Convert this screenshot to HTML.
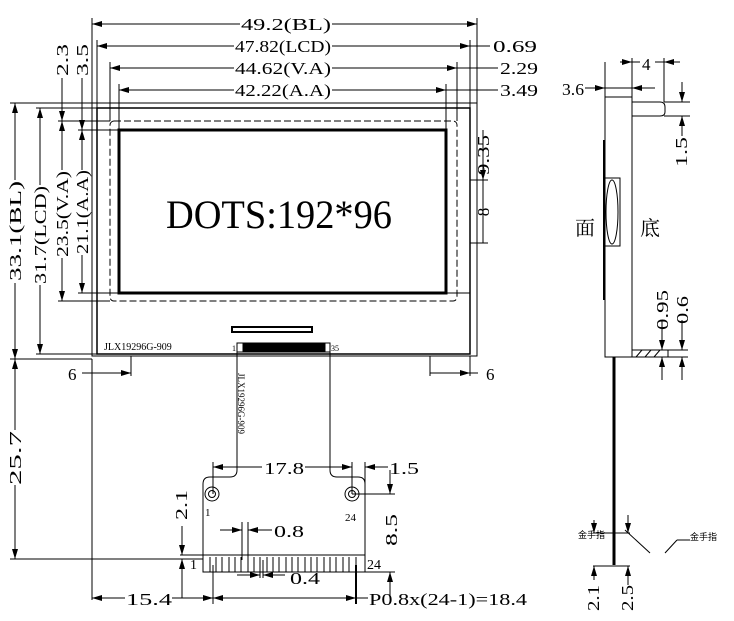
<!DOCTYPE html>
<html><head><meta charset="utf-8"><style>
html,body{margin:0;padding:0;background:#fff;}
svg{display:block;}
text{font-family:"Liberation Serif","Noto Serif CJK SC",serif;fill:#000;}
</style></head><body>
<svg width="734" height="621" viewBox="0 0 734 621" xmlns="http://www.w3.org/2000/svg">
<defs>
<marker id="a" viewBox="0 0 10 6" refX="10" refY="3" markerWidth="10" markerHeight="6" orient="auto-start-reverse" markerUnits="userSpaceOnUse"><path d="M0,0 L10,3 L0,6z" fill="#000"/></marker>
</defs>
<g stroke="#000" fill="none" stroke-width="1">
<rect x="92" y="103" width="385" height="253"/>
<rect x="97" y="108" width="373" height="246" stroke-width="1.5"/>
<line x1="97" y1="293" x2="470" y2="293"/>
<rect x="110" y="121" width="347" height="180" rx="4" stroke-dasharray="7,3"/>
<rect x="119" y="130" width="327" height="163" stroke-width="3"/>
<rect x="232" y="327" width="80" height="5" stroke-width="2"/>
<rect x="243" y="343" width="82" height="9" fill="#000"/>
<rect x="237" y="343" width="93" height="9"/>
<path d="M237,352 V470 Q237,477 230,477 H210 Q203,477 203,484 V555 M330,352 V470 Q330,477 337,477 H358 Q365,477 365,484 V555"/>
<rect x="203" y="555" width="162" height="17"/>
<circle cx="212" cy="494" r="7"/><circle cx="212" cy="494" r="3.5"/>
<circle cx="352" cy="494" r="7"/><circle cx="352" cy="494" r="3.5"/>
<path d="M210,557 V572 M216,557 V572 M222,557 V572 M229,557 V572 M235,557 V572 M241,557 V572 M248,557 V572 M254,557 V572 M260,557 V572 M267,557 V572 M273,557 V572 M279,557 V572 M286,557 V572 M292,557 V572 M298,557 V572 M305,557 V572 M311,557 V572 M317,557 V572 M324,557 V572 M330,557 V572 M336,557 V572 M343,557 V572 M349,557 V572 M356,557 V572"/>
<line x1="92" y1="18" x2="92" y2="103"/><line x1="477" y1="18" x2="477" y2="103"/>
<line x1="97" y1="40" x2="97" y2="108"/><line x1="470" y1="40" x2="470" y2="108"/>
<line x1="110" y1="62" x2="110" y2="121"/><line x1="457" y1="62" x2="457" y2="121"/>
<line x1="119" y1="84" x2="119" y2="130"/><line x1="446" y1="84" x2="446" y2="130"/>
<line x1="92" y1="24" x2="240" y2="24" marker-start="url(#a)"/><line x1="332" y1="24" x2="477" y2="24" marker-end="url(#a)"/>
<line x1="97" y1="46" x2="234" y2="46" marker-start="url(#a)"/><line x1="332" y1="46" x2="470" y2="46" marker-end="url(#a)"/><line x1="470" y1="46" x2="490" y2="46"/>
<line x1="110" y1="68" x2="234" y2="68" marker-start="url(#a)"/><line x1="332" y1="68" x2="457" y2="68" marker-end="url(#a)"/><line x1="457" y1="68" x2="498" y2="68"/>
<line x1="119" y1="90" x2="234" y2="90" marker-start="url(#a)"/><line x1="332" y1="90" x2="446" y2="90" marker-end="url(#a)"/><line x1="446" y1="90" x2="498" y2="90"/>
<line x1="10" y1="103" x2="92" y2="103"/><line x1="36" y1="108" x2="97" y2="108"/>
<line x1="58" y1="121" x2="110" y2="121"/><line x1="78" y1="130" x2="119" y2="130"/>
<line x1="58" y1="301" x2="110" y2="301"/><line x1="78" y1="293" x2="119" y2="293"/>
<line x1="36" y1="354" x2="97" y2="354"/><line x1="10" y1="359" x2="92" y2="359"/>
<line x1="15" y1="103" x2="15" y2="180" marker-start="url(#a)"/><line x1="15" y1="283" x2="15" y2="359" marker-end="url(#a)"/>
<line x1="40" y1="108" x2="40" y2="185" marker-start="url(#a)"/><line x1="40" y1="285" x2="40" y2="354" marker-end="url(#a)"/>
<line x1="62" y1="121" x2="62" y2="170" marker-start="url(#a)"/><line x1="62" y1="258" x2="62" y2="301" marker-end="url(#a)"/>
<line x1="62" y1="78" x2="62" y2="121" marker-end="url(#a)"/>
<line x1="82" y1="130" x2="82" y2="170" marker-start="url(#a)"/><line x1="82" y1="255" x2="82" y2="293" marker-end="url(#a)"/>
<line x1="82" y1="78" x2="82" y2="130" marker-end="url(#a)"/>
<line x1="15" y1="359" x2="15" y2="430" marker-start="url(#a)"/><line x1="15" y1="485" x2="15" y2="559" marker-end="url(#a)"/>
<line x1="10" y1="559" x2="203" y2="559"/>
<line x1="131" y1="356" x2="131" y2="376"/><line x1="82" y1="373" x2="131" y2="373" marker-end="url(#a)"/>
<line x1="430" y1="356" x2="430" y2="376"/><line x1="430" y1="373" x2="470" y2="373" marker-end="url(#a)"/><line x1="470" y1="356" x2="470" y2="376"/><line x1="470" y1="373" x2="478" y2="373"/>
<line x1="470" y1="180" x2="488" y2="180"/><line x1="470" y1="243" x2="488" y2="243"/>
<line x1="483" y1="130" x2="483" y2="180" marker-end="url(#a)"/><line x1="483" y1="180" x2="483" y2="243"/>
<line x1="92" y1="359" x2="92" y2="600"/>
<line x1="213" y1="462" x2="213" y2="494"/><line x1="352" y1="462" x2="352" y2="494"/><line x1="365" y1="462" x2="365" y2="484"/>
<line x1="213" y1="467" x2="262" y2="467" marker-start="url(#a)"/><line x1="305" y1="467" x2="352" y2="467" marker-end="url(#a)"/>
<line x1="365" y1="467" x2="388" y2="467" marker-start="url(#a)"/>
<line x1="352" y1="494" x2="395" y2="494"/><line x1="365" y1="572" x2="395" y2="572"/>
<line x1="390" y1="470" x2="390" y2="494" marker-end="url(#a)"/><line x1="390" y1="572" x2="390" y2="598" marker-start="url(#a)"/>
<line x1="180" y1="555" x2="203" y2="555"/><line x1="182" y1="526" x2="182" y2="555" marker-end="url(#a)"/><line x1="182" y1="559" x2="182" y2="598" marker-start="url(#a)"/>
<line x1="242" y1="522" x2="242" y2="560"/><line x1="248" y1="522" x2="248" y2="560"/>
<line x1="220" y1="530" x2="242" y2="530" marker-end="url(#a)"/><line x1="248" y1="530" x2="272" y2="530" marker-start="url(#a)"/>
<line x1="260" y1="560" x2="260" y2="578"/><line x1="263" y1="560" x2="263" y2="578"/>
<line x1="237" y1="575" x2="260" y2="575" marker-end="url(#a)"/><line x1="263" y1="575" x2="285" y2="575" marker-start="url(#a)"/>
<line x1="213" y1="565" x2="213" y2="604"/><line x1="356" y1="565" x2="356" y2="604" stroke-width="2"/>
<line x1="92" y1="598" x2="125" y2="598" marker-start="url(#a)"/><line x1="172" y1="598" x2="213" y2="598" marker-end="url(#a)"/>
<line x1="213" y1="598" x2="356" y2="598" marker-start="url(#a)" marker-end="url(#a)"/><line x1="356" y1="598" x2="368" y2="598"/>
<rect x="605" y="97" width="27" height="260"/>
<path d="M632,102 H660 Q665,102 665,107 V112 Q665,116 660,116 H632"/>
<rect x="605" y="178" width="15" height="68"/><ellipse cx="612" cy="212" rx="6" ry="32"/>
<line x1="604" y1="140" x2="604" y2="300" stroke-width="2"/>
<rect x="632" y="350" width="36" height="7"/>
<path d="M636,357 l6,-7 M645,357 l6,-7 M654,357 l6,-7"/>
<line x1="614" y1="357" x2="614" y2="565" stroke-width="3"/>
<line x1="605" y1="62" x2="605" y2="97"/><line x1="632" y1="58" x2="632" y2="97"/><line x1="664" y1="58" x2="664" y2="102"/>
<line x1="620" y1="62" x2="632" y2="62" marker-end="url(#a)"/><line x1="664" y1="62" x2="680" y2="62" marker-start="url(#a)"/><line x1="632" y1="62" x2="640" y2="62"/><line x1="655" y1="62" x2="664" y2="62"/>
<line x1="585" y1="88" x2="605" y2="88" marker-end="url(#a)"/><line x1="632" y1="88" x2="655" y2="88" marker-start="url(#a)"/><line x1="605" y1="88" x2="632" y2="88"/>
<line x1="664" y1="102" x2="690" y2="102"/><line x1="664" y1="116" x2="690" y2="116"/>
<line x1="682" y1="82" x2="682" y2="102" marker-end="url(#a)"/><line x1="682" y1="116" x2="682" y2="136" marker-start="url(#a)"/>
<line x1="664" y1="350" x2="688" y2="350"/><line x1="664" y1="357" x2="688" y2="357"/>
<line x1="662" y1="320" x2="662" y2="350" marker-end="url(#a)"/><line x1="662" y1="357" x2="662" y2="380" marker-start="url(#a)"/>
<line x1="682" y1="320" x2="682" y2="350" marker-end="url(#a)"/><line x1="682" y1="357" x2="682" y2="380" marker-start="url(#a)"/>
<line x1="593" y1="533" x2="630" y2="533"/><line x1="593" y1="566" x2="630" y2="566"/>
<line x1="594" y1="520" x2="594" y2="533" marker-end="url(#a)"/><line x1="594" y1="566" x2="594" y2="580" marker-start="url(#a)"/>
<line x1="628" y1="515" x2="628" y2="533" marker-end="url(#a)"/><line x1="628" y1="566" x2="628" y2="585" marker-start="url(#a)"/>
<line x1="625" y1="530" x2="650" y2="553"/><line x1="665" y1="553" x2="677" y2="540"/><line x1="677" y1="540" x2="690" y2="540"/>
</g>
<g font-size="17" lengthAdjust="spacingAndGlyphs">
<text x="241" y="30" textLength="90" lengthAdjust="spacingAndGlyphs">49.2(BL)</text>
<text x="235" y="52" textLength="96" lengthAdjust="spacingAndGlyphs">47.82(LCD)</text>
<text x="235" y="74" textLength="96" lengthAdjust="spacingAndGlyphs">44.62(V.A)</text>
<text x="235" y="96" textLength="96" lengthAdjust="spacingAndGlyphs">42.22(A.A)</text>
<text x="493" y="52" textLength="44" lengthAdjust="spacingAndGlyphs">0.69</text>
<text x="500" y="74" textLength="38" lengthAdjust="spacingAndGlyphs">2.29</text>
<text x="500" y="96" textLength="38" lengthAdjust="spacingAndGlyphs">3.49</text>
<text x="68" y="380">6</text>
<text x="486" y="380">6</text>
<text x="264" y="474" textLength="40" lengthAdjust="spacingAndGlyphs">17.8</text>
<text x="389" y="474" textLength="30" lengthAdjust="spacingAndGlyphs">1.5</text>
<text x="274" y="537" textLength="30" lengthAdjust="spacingAndGlyphs">0.8</text>
<text x="290" y="584" textLength="30" lengthAdjust="spacingAndGlyphs">0.4</text>
<text x="126" y="605" textLength="46" lengthAdjust="spacingAndGlyphs">15.4</text>
<text x="369" y="605" textLength="158" lengthAdjust="spacingAndGlyphs">P0.8x(24-1)=18.4</text>
<text x="562" y="95" textLength="22" lengthAdjust="spacingAndGlyphs">3.6</text>
<text x="642" y="70">4</text>
</g>
<g font-size="17">
<text transform="translate(21,231) rotate(-90)" text-anchor="middle" textLength="100" lengthAdjust="spacingAndGlyphs">33.1(BL)</text>
<text transform="translate(46,235) rotate(-90)" text-anchor="middle" textLength="98" lengthAdjust="spacingAndGlyphs">31.7(LCD)</text>
<text transform="translate(68,214) rotate(-90)" text-anchor="middle" textLength="86" lengthAdjust="spacingAndGlyphs">23.5(V.A)</text>
<text transform="translate(88,212) rotate(-90)" text-anchor="middle" textLength="84" lengthAdjust="spacingAndGlyphs">21.1(A.A)</text>
<text transform="translate(68,60) rotate(-90)" text-anchor="middle" textLength="32" lengthAdjust="spacingAndGlyphs">2.3</text>
<text transform="translate(88,60) rotate(-90)" text-anchor="middle" textLength="32" lengthAdjust="spacingAndGlyphs">3.5</text>
<text transform="translate(21,458) rotate(-90)" text-anchor="middle" textLength="54" lengthAdjust="spacingAndGlyphs">25.7</text>
<text transform="translate(489,155) rotate(-90)" text-anchor="middle" textLength="40" lengthAdjust="spacingAndGlyphs">9.35</text>
<text transform="translate(489,212) rotate(-90)" text-anchor="middle">8</text>
<text transform="translate(187,505) rotate(-90)" text-anchor="middle" textLength="30" lengthAdjust="spacingAndGlyphs">2.1</text>
<text transform="translate(397,530) rotate(-90)" text-anchor="middle" textLength="32" lengthAdjust="spacingAndGlyphs">8.5</text>
<text transform="translate(687,152) rotate(-90)" text-anchor="middle" textLength="30" lengthAdjust="spacingAndGlyphs">1.5</text>
<text transform="translate(668,310) rotate(-90)" text-anchor="middle" textLength="40" lengthAdjust="spacingAndGlyphs">0.95</text>
<text transform="translate(688,310) rotate(-90)" text-anchor="middle" textLength="28" lengthAdjust="spacingAndGlyphs">0.6</text>
<text transform="translate(599,598) rotate(-90)" text-anchor="middle" textLength="26" lengthAdjust="spacingAndGlyphs">2.1</text>
<text transform="translate(633,598) rotate(-90)" text-anchor="middle" textLength="26" lengthAdjust="spacingAndGlyphs">2.5</text>
</g>
<text x="166" y="228" font-size="40" textLength="226" lengthAdjust="spacingAndGlyphs">DOTS:192*96</text>
<text x="104" y="350" font-size="10">JLX19296G-909</text>
<text x="232" y="351" font-size="8">1</text><text x="331" y="351" font-size="8">35</text>
<text transform="translate(238,373) rotate(90)" font-size="9">JLX19296G-909</text>
<text x="205" y="516" font-size="11">1</text><text x="345" y="521" font-size="11">24</text>
<text x="190" y="569" font-size="14">1</text><text x="367" y="569" font-size="14">24</text>
<text x="575" y="235" font-size="20" style="font-family:'Noto Serif CJK SC',serif">面</text>
<text x="640" y="235" font-size="20" style="font-family:'Noto Serif CJK SC',serif">底</text>
<text x="578" y="538" font-size="9" style="font-family:'Noto Sans CJK SC',sans-serif">金手指</text>
<text x="690" y="540" font-size="9" style="font-family:'Noto Sans CJK SC',sans-serif">金手指</text>
</svg>
</body></html>
